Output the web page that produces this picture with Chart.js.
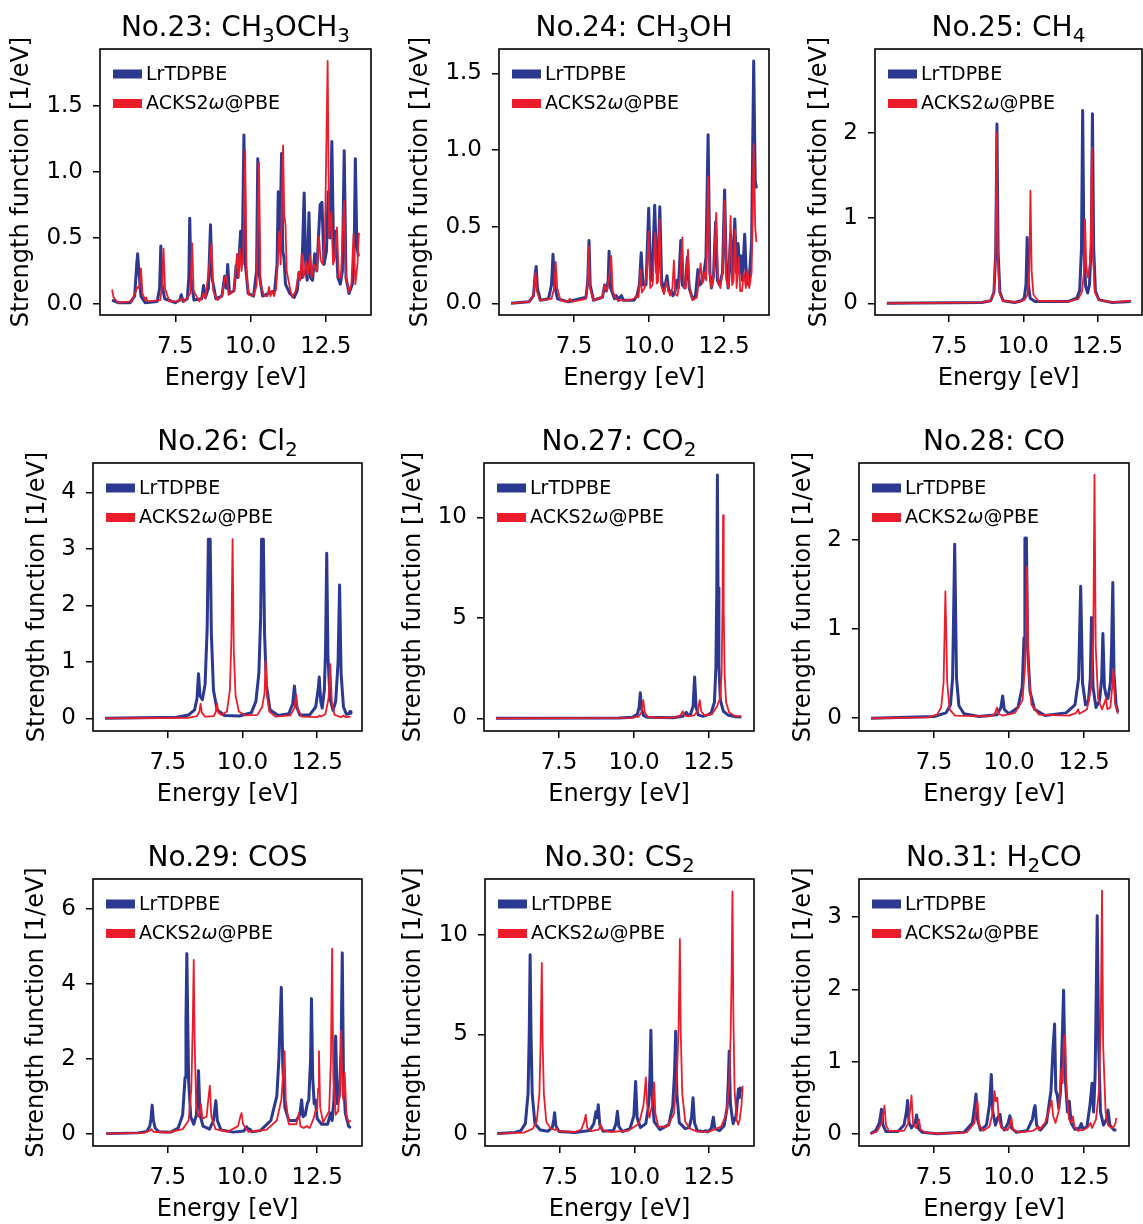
<!DOCTYPE html>
<html>
<head>
<meta charset="utf-8">
<script src="https://cdn.jsdelivr.net/npm/chart.js@4.4.1/dist/chart.umd.min.js"></script>
<style>
  body { margin: 0; background: #fff; width: 1143px; height: 1224px; position: relative; overflow: hidden; }
  canvas { position: absolute; }
</style>
</head>
<body>
<script>
// ---- data: [energy eV, strength 1/eV] ----
const seriesNames = ['LrTDPBE', 'ACKS2\u03c9@PBE'];
const xTicks = [7.5, 10.0, 12.5];

const ch3och3Lr = [[5.4,0.03],[5.6,0.01],[6.0,0.01],[6.15,0.06],[6.22,0.3],[6.25,0.38],[6.29,0.25],[6.36,0.06],[6.5,0.01],[6.9,0.02],[6.98,0.12],[7.02,0.44],[7.06,0.15],[7.15,0.04],[7.5,0.01],[7.65,0.03],[7.7,0.07],[7.76,0.02],[7.9,0.04],[7.95,0.2],[7.98,0.65],[8.02,0.2],[8.12,0.03],[8.38,0.04],[8.44,0.14],[8.5,0.05],[8.6,0.12],[8.67,0.6],[8.72,0.2],[8.85,0.04],[9.05,0.06],[9.14,0.21],[9.2,0.12],[9.24,0.3],[9.3,0.08],[9.45,0.1],[9.52,0.29],[9.58,0.2],[9.67,0.55],[9.72,0.3],[9.78,1.28],[9.83,0.3],[9.92,0.08],[10.1,0.06],[10.2,0.25],[10.24,1.1],[10.29,0.22],[10.4,0.06],[10.6,0.08],[10.8,0.1],[10.88,0.3],[10.92,0.85],[10.97,0.4],[11.03,1.14],[11.07,0.4],[11.11,0.35],[11.16,0.15],[11.3,0.08],[11.45,0.05],[11.55,0.1],[11.61,0.24],[11.7,0.2],[11.78,0.84],[11.83,0.3],[11.88,0.18],[11.94,0.69],[11.99,0.2],[12.06,0.18],[12.13,0.38],[12.2,0.25],[12.31,0.75],[12.37,0.77],[12.44,0.3],[12.52,0.4],[12.58,0.85],[12.64,0.5],[12.7,1.23],[12.76,0.35],[12.83,0.55],[12.9,0.2],[12.98,0.15],[13.05,0.25],[13.11,1.16],[13.17,0.2],[13.27,0.08],[13.38,0.15],[13.44,0.4],[13.48,1.1],[13.53,0.45],[13.58,0.36]];
const ch3och3Ac = [[5.4,0.11],[5.45,0.05],[5.6,0.01],[6.05,0.02],[6.2,0.1],[6.24,0.13],[6.3,0.12],[6.36,0.27],[6.41,0.08],[6.5,0.03],[6.53,0.05],[6.58,0.02],[7.0,0.03],[7.07,0.15],[7.11,0.42],[7.16,0.12],[7.3,0.02],[7.6,0.02],[7.7,0.04],[7.8,0.02],[8.0,0.08],[8.06,0.46],[8.11,0.1],[8.3,0.02],[8.44,0.08],[8.5,0.04],[8.62,0.27],[8.7,0.46],[8.76,0.1],[8.9,0.03],[9.05,0.06],[9.15,0.2],[9.2,0.21],[9.27,0.07],[9.45,0.1],[9.55,0.38],[9.6,0.2],[9.64,0.42],[9.7,0.25],[9.76,0.4],[9.82,1.16],[9.87,0.2],[9.95,0.07],[10.1,0.06],[10.2,0.14],[10.28,1.07],[10.33,0.15],[10.45,0.06],[10.56,0.06],[10.61,0.13],[10.66,0.06],[10.72,0.1],[10.78,0.06],[10.85,0.12],[10.9,0.3],[10.95,0.55],[11.0,0.3],[11.08,1.2],[11.12,0.67],[11.16,0.6],[11.2,0.25],[11.3,0.13],[11.38,0.05],[11.5,0.1],[11.6,0.24],[11.65,0.18],[11.7,0.38],[11.76,0.2],[11.85,0.32],[11.9,0.22],[11.98,0.37],[12.03,0.2],[12.1,0.3],[12.2,0.25],[12.27,0.51],[12.33,0.33],[12.4,0.3],[12.47,0.5],[12.56,1.84],[12.61,0.5],[12.68,0.7],[12.74,0.3],[12.8,0.35],[12.87,0.58],[12.93,0.2],[13.0,0.2],[13.11,0.78],[13.17,0.2],[13.27,0.09],[13.35,0.15],[13.42,0.53],[13.48,0.15],[13.55,0.3],[13.6,0.54]];

const ch3ohLr = [[5.4,0.0],[6.0,0.01],[6.15,0.05],[6.21,0.2],[6.24,0.24],[6.28,0.1],[6.38,0.02],[6.65,0.03],[6.75,0.12],[6.8,0.32],[6.85,0.12],[6.95,0.03],[7.3,0.01],[7.9,0.04],[7.96,0.15],[8.0,0.41],[8.04,0.12],[8.15,0.02],[8.45,0.04],[8.52,0.12],[8.58,0.08],[8.64,0.15],[8.67,0.34],[8.72,0.1],[8.85,0.03],[8.91,0.05],[8.98,0.02],[9.03,0.04],[9.08,0.05],[9.15,0.02],[9.5,0.02],[9.6,0.05],[9.68,0.12],[9.74,0.33],[9.8,0.12],[9.9,0.12],[9.99,0.62],[10.05,0.2],[10.1,0.15],[10.19,0.64],[10.26,0.2],[10.3,0.2],[10.36,0.63],[10.42,0.15],[10.5,0.08],[10.6,0.18],[10.66,0.08],[10.74,0.08],[10.8,0.05],[10.87,0.08],[10.93,0.15],[10.98,0.1],[11.06,0.41],[11.11,0.12],[11.2,0.1],[11.28,0.3],[11.34,0.1],[11.45,0.03],[11.55,0.05],[11.63,0.22],[11.7,0.12],[11.8,0.15],[11.9,0.3],[11.97,1.1],[12.03,0.2],[12.08,0.1],[12.15,0.18],[12.22,0.53],[12.28,0.15],[12.35,0.12],[12.45,0.2],[12.52,0.74],[12.58,0.2],[12.64,0.1],[12.72,0.45],[12.78,0.15],[12.86,0.55],[12.92,0.2],[12.97,0.39],[13.02,0.2],[13.06,0.31],[13.11,0.15],[13.19,0.45],[13.25,0.15],[13.33,0.12],[13.42,0.4],[13.49,1.58],[13.54,0.8],[13.58,0.75]];
const ch3ohAc = [[5.4,0.0],[6.0,0.01],[6.14,0.05],[6.19,0.15],[6.22,0.2],[6.26,0.08],[6.36,0.02],[6.75,0.03],[6.84,0.1],[6.89,0.27],[6.94,0.1],[7.05,0.02],[7.3,0.01],[7.36,0.03],[7.42,0.01],[7.9,0.03],[7.95,0.12],[7.99,0.37],[8.03,0.1],[8.15,0.02],[8.45,0.04],[8.52,0.12],[8.6,0.08],[8.69,0.2],[8.74,0.31],[8.79,0.08],[8.9,0.03],[9.0,0.02],[9.3,0.02],[9.5,0.03],[9.58,0.05],[9.65,0.04],[9.72,0.22],[9.76,0.07],[9.85,0.1],[9.93,0.2],[9.99,0.47],[10.04,0.1],[10.12,0.12],[10.21,0.46],[10.26,0.13],[10.3,0.14],[10.35,0.55],[10.4,0.12],[10.5,0.06],[10.58,0.14],[10.63,0.1],[10.7,0.05],[10.78,0.1],[10.83,0.28],[10.88,0.06],[10.95,0.05],[11.05,0.2],[11.11,0.43],[11.16,0.1],[11.22,0.1],[11.3,0.35],[11.35,0.1],[11.45,0.02],[11.6,0.04],[11.72,0.26],[11.78,0.13],[11.85,0.2],[11.91,0.15],[11.97,0.83],[12.02,0.2],[12.08,0.1],[12.16,0.2],[12.24,0.59],[12.3,0.15],[12.38,0.1],[12.46,0.22],[12.52,0.67],[12.58,0.15],[12.65,0.1],[12.72,0.57],[12.77,0.12],[12.82,0.15],[12.87,0.48],[12.92,0.1],[12.99,0.3],[13.04,0.08],[13.1,0.08],[13.16,0.2],[13.23,0.1],[13.28,0.22],[13.34,0.1],[13.42,0.2],[13.49,1.04],[13.54,0.5],[13.58,0.4]];

const ch4Lr = [[5.4,0],[8.6,0.01],[8.9,0.03],[9.01,0.13],[9.07,0.6],[9.11,2.1],[9.15,0.6],[9.21,0.13],[9.32,0.03],[9.7,0.01],[9.93,0.03],[10.03,0.06],[10.09,0.22],[10.13,0.77],[10.17,0.22],[10.23,0.06],[10.4,0.02],[11.5,0.02],[11.8,0.06],[11.9,0.15],[11.96,0.65],[12.0,2.26],[12.04,0.7],[12.1,0.2],[12.17,0.12],[12.23,0.22],[12.29,0.7],[12.33,2.22],[12.37,0.65],[12.43,0.14],[12.55,0.04],[13.0,0.01],[13.62,0.02]];
const ch4Ac = [[5.4,0],[8.6,0.01],[8.9,0.03],[9.0,0.12],[9.06,0.56],[9.1,2.0],[9.14,0.56],[9.2,0.12],[9.31,0.03],[9.8,0.01],[10.04,0.04],[10.14,0.1],[10.2,0.38],[10.24,1.32],[10.28,0.38],[10.34,0.1],[10.5,0.03],[11.5,0.02],[11.85,0.05],[11.98,0.14],[12.04,0.35],[12.08,0.98],[12.12,0.45],[12.18,0.3],[12.24,0.45],[12.27,0.6],[12.31,1.82],[12.35,0.55],[12.41,0.13],[12.55,0.04],[13.0,0.01],[13.62,0.03]];

const cl2Lr = [[5.4,0],[7.8,0.02],[8.2,0.06],[8.4,0.15],[8.48,0.35],[8.53,0.79],[8.58,0.4],[8.66,0.33],[8.75,0.6],[8.82,1.6],[8.86,3.17],[8.92,3.17],[8.96,1.5],[9.03,0.5],[9.15,0.15],[9.4,0.05],[9.9,0.04],[10.3,0.1],[10.45,0.3],[10.55,0.8],[10.61,1.8],[10.64,3.17],[10.7,3.17],[10.74,1.5],[10.8,0.6],[10.92,0.15],[11.2,0.05],[11.55,0.08],[11.68,0.25],[11.74,0.57],[11.8,0.22],[11.92,0.06],[12.25,0.06],[12.45,0.2],[12.53,0.5],[12.57,0.73],[12.62,0.3],[12.67,0.18],[12.74,0.5],[12.78,1.2],[12.82,2.92],[12.86,1.1],[12.93,0.35],[13.03,0.14],[13.12,0.3],[13.2,1.0],[13.25,2.36],[13.3,0.8],[13.38,0.2],[13.48,0.07],[13.56,0.08],[13.6,0.12],[13.63,0.09]];
const cl2Ac = [[5.4,0],[8.2,0.01],[8.48,0.04],[8.56,0.12],[8.6,0.26],[8.64,0.1],[8.75,0.03],[9.04,0.04],[9.11,0.12],[9.15,0.27],[9.19,0.1],[9.3,0.06],[9.48,0.12],[9.58,0.5],[9.63,1.4],[9.67,3.17],[9.71,1.2],[9.77,0.4],[9.88,0.12],[10.1,0.05],[10.5,0.06],[10.66,0.2],[10.74,0.45],[10.78,1.02],[10.82,0.4],[10.9,0.12],[11.1,0.03],[11.6,0.05],[11.74,0.18],[11.8,0.42],[11.85,0.15],[11.98,0.03],[12.5,0.02],[12.58,0.05],[12.64,0.03],[12.78,0.08],[12.88,0.35],[12.94,0.96],[12.99,0.3],[13.08,0.06],[13.3,0.02],[13.38,0.05],[13.45,0.02],[13.62,0.03]];

const co2Lr = [[5.4,0],[9.5,0.02],[9.95,0.05],[10.11,0.2],[10.17,0.55],[10.21,1.27],[10.25,0.5],[10.31,0.15],[10.45,0.05],[11.3,0.03],[11.62,0.1],[11.7,0.22],[11.74,0.3],[11.79,0.18],[11.88,0.18],[11.97,0.6],[12.02,2.05],[12.07,0.55],[12.14,0.17],[12.3,0.1],[12.5,0.2],[12.58,0.3],[12.68,0.8],[12.73,2.5],[12.76,6.5],[12.78,12.1],[12.8,6.5],[12.83,2.6],[12.88,0.9],[12.98,0.35],[13.15,0.15],[13.4,0.08],[13.58,0.06]];
const co2Ac = [[5.4,0],[9.9,0.02],[10.15,0.08],[10.25,0.3],[10.31,0.9],[10.36,0.3],[10.45,0.08],[10.7,0.03],[11.3,0.04],[11.53,0.12],[11.63,0.35],[11.68,0.15],[11.8,0.1],[12.0,0.15],[12.12,0.35],[12.19,0.9],[12.24,0.35],[12.35,0.15],[12.6,0.2],[12.77,0.6],[12.87,1.0],[12.92,2.2],[12.95,5.5],[12.97,10.1],[12.99,5.5],[13.02,2.2],[13.07,0.8],[13.17,0.3],[13.35,0.12],[13.58,0.1]];

const coLr = [[5.4,0],[7.5,0.02],[7.9,0.06],[8.05,0.15],[8.12,0.45],[8.19,1.95],[8.25,0.45],[8.33,0.14],[8.5,0.05],[9.0,0.02],[9.6,0.04],[9.73,0.12],[9.79,0.25],[9.84,0.1],[10.0,0.05],[10.3,0.12],[10.44,0.35],[10.5,0.9],[10.53,2.02],[10.58,2.02],[10.62,0.8],[10.7,0.3],[10.85,0.1],[11.2,0.03],[11.9,0.06],[12.2,0.15],[12.32,0.45],[12.39,1.48],[12.45,0.4],[12.55,0.15],[12.65,0.2],[12.71,0.45],[12.75,1.13],[12.8,0.35],[12.9,0.12],[13.02,0.2],[13.09,0.45],[13.13,0.95],[13.18,0.35],[13.24,0.25],[13.3,0.22],[13.38,0.4],[13.42,0.8],[13.46,1.52],[13.5,0.5],[13.57,0.15],[13.63,0.07]];
const coAc = [[5.4,0],[7.3,0.01],[7.6,0.04],[7.74,0.12],[7.82,0.4],[7.88,1.42],[7.94,0.4],[8.02,0.1],[8.2,0.03],[9.3,0.02],[9.5,0.04],[9.56,0.08],[9.6,0.12],[9.64,0.05],[9.8,0.03],[10.2,0.06],[10.45,0.2],[10.54,0.6],[10.6,1.7],[10.65,0.55],[10.75,0.15],[11.0,0.04],[12.0,0.03],[12.24,0.06],[12.3,0.1],[12.35,0.05],[12.6,0.1],[12.74,0.35],[12.81,0.9],[12.85,2.73],[12.89,0.8],[12.97,0.22],[13.1,0.1],[13.19,0.18],[13.23,0.22],[13.28,0.1],[13.38,0.12],[13.44,0.35],[13.48,0.55],[13.53,0.18],[13.63,0.05]];

const cosLr = [[5.44,0],[6.5,0.02],[6.8,0.06],[6.9,0.2],[6.94,0.4],[6.98,0.76],[7.02,0.35],[7.08,0.15],[7.2,0.05],[7.6,0.04],[7.85,0.15],[8.0,0.5],[8.08,1.5],[8.11,3.0],[8.14,4.8],[8.17,3.0],[8.2,1.4],[8.27,0.45],[8.37,0.25],[8.46,0.5],[8.53,1.68],[8.58,0.5],[8.68,0.2],[8.9,0.12],[9.03,0.35],[9.11,0.88],[9.16,0.35],[9.28,0.1],[9.7,0.04],[10.05,0.07],[10.14,0.18],[10.2,0.12],[10.25,0.12],[10.32,0.05],[10.6,0.08],[10.95,0.35],[11.15,1.0],[11.22,2.0],[11.3,3.9],[11.35,1.8],[11.42,0.7],[11.55,0.35],[11.8,0.35],[11.92,0.5],[11.98,0.9],[12.03,0.45],[12.1,0.5],[12.17,0.8],[12.22,0.9],[12.28,2.0],[12.31,3.6],[12.35,1.5],[12.4,0.8],[12.44,0.9],[12.5,0.4],[12.65,0.25],[12.85,0.25],[12.95,0.55],[13.0,0.35],[13.06,0.9],[13.12,2.6],[13.17,0.8],[13.24,1.0],[13.3,2.2],[13.34,4.82],[13.38,1.5],[13.44,0.55],[13.55,0.2],[13.62,0.15]];
const cosAc = [[5.44,0],[6.7,0.02],[6.9,0.08],[6.95,0.12],[7.02,0.05],[7.5,0.03],[8.0,0.12],[8.2,0.35],[8.29,1.2],[8.34,3.0],[8.37,4.63],[8.4,2.5],[8.45,0.8],[8.52,0.45],[8.57,0.5],[8.61,0.79],[8.66,0.4],[8.8,0.45],[8.87,1.0],[8.91,1.28],[8.96,0.45],[9.1,0.12],[9.5,0.05],[9.85,0.2],[9.93,0.45],[9.97,0.55],[10.02,0.25],[10.2,0.05],[10.8,0.1],[11.15,0.35],[11.3,0.9],[11.37,1.7],[11.41,2.2],[11.45,0.9],[11.55,0.25],[11.8,0.25],[11.89,0.55],[11.94,0.2],[12.05,0.15],[12.15,0.2],[12.25,0.15],[12.38,0.4],[12.44,0.6],[12.5,0.6],[12.53,1.2],[12.56,2.2],[12.6,0.7],[12.7,0.3],[12.9,0.6],[12.96,2.0],[13.0,4.93],[13.04,1.5],[13.12,0.5],[13.2,0.6],[13.26,1.2],[13.3,2.74],[13.35,1.0],[13.38,0.9],[13.42,1.62],[13.48,0.5],[13.55,0.3],[13.62,0.35]];

const cs2Lr = [[5.41,0],[6.0,0.06],[6.2,0.15],[6.35,0.5],[6.44,2.0],[6.48,5.0],[6.51,9.0],[6.54,5.0],[6.58,2.0],[6.67,0.5],[6.85,0.18],[7.1,0.12],[7.25,0.3],[7.3,0.7],[7.33,1.05],[7.37,0.4],[7.48,0.1],[8.0,0.05],[8.5,0.15],[8.64,0.5],[8.71,1.1],[8.75,0.8],[8.79,1.45],[8.84,0.45],[8.95,0.12],[9.3,0.15],[9.38,0.5],[9.43,1.12],[9.48,0.35],[9.6,0.1],[9.85,0.25],[9.98,0.9],[10.04,2.62],[10.09,0.8],[10.2,0.3],[10.38,0.5],[10.48,1.5],[10.52,3.0],[10.55,5.2],[10.59,2.0],[10.66,0.6],[10.85,0.2],[11.15,0.45],[11.28,1.4],[11.34,3.0],[11.38,5.15],[11.42,2.0],[11.5,0.55],[11.7,0.25],[11.83,0.3],[11.91,0.8],[11.96,1.8],[12.01,0.55],[12.1,0.15],[12.3,0.1],[12.39,0.15],[12.45,0.08],[12.57,0.25],[12.64,0.82],[12.69,0.25],[12.85,0.15],[13.0,0.4],[13.1,1.3],[13.14,2.6],[13.17,4.15],[13.21,1.5],[13.3,0.5],[13.4,0.9],[13.48,2.25],[13.51,1.8],[13.54,2.3],[13.6,2.1]];
const cs2Ac = [[5.41,0],[6.3,0.05],[6.6,0.25],[6.73,0.6],[6.82,2.0],[6.86,4.5],[6.9,8.6],[6.93,4.5],[6.97,2.0],[7.05,0.6],[7.2,0.25],[7.35,0.18],[7.39,0.25],[7.45,0.12],[8.0,0.08],[8.22,0.2],[8.32,0.6],[8.37,0.95],[8.42,0.3],[8.55,0.12],[8.8,0.2],[8.87,0.45],[8.93,0.18],[9.2,0.08],[9.8,0.15],[10.15,0.5],[10.3,1.4],[10.35,2.2],[10.38,2.83],[10.42,1.5],[10.5,0.8],[10.6,1.5],[10.63,2.0],[10.66,2.58],[10.7,1.0],[10.8,0.35],[11.1,0.35],[11.32,1.0],[11.42,2.8],[11.48,5.5],[11.52,9.8],[11.55,5.0],[11.6,2.0],[11.7,0.6],[11.85,0.25],[11.94,0.2],[12.1,0.1],[12.5,0.1],[12.9,0.35],[13.08,1.0],[13.17,2.5],[13.22,5.0],[13.25,8.0],[13.28,12.2],[13.31,6.0],[13.35,2.2],[13.42,0.7],[13.47,0.45],[13.52,0.7],[13.58,1.4],[13.62,2.4]];

const h2coLr = [[5.38,0],[5.55,0.04],[5.68,0.15],[5.75,0.34],[5.8,0.12],[5.9,0.03],[6.3,0.03],[6.5,0.12],[6.58,0.3],[6.62,0.46],[6.67,0.15],[6.75,0.08],[6.87,0.15],[6.92,0.26],[6.97,0.08],[7.1,0.02],[7.6,0.0],[8.5,0.02],[8.78,0.15],[8.86,0.4],[8.9,0.55],[8.95,0.2],[9.05,0.05],[9.25,0.12],[9.35,0.4],[9.41,0.82],[9.46,0.3],[9.55,0.12],[9.62,0.22],[9.7,0.27],[9.75,0.1],[9.85,0.05],[9.97,0.15],[10.03,0.25],[10.08,0.08],[10.25,0.02],[10.6,0.04],[10.78,0.2],[10.84,0.35],[10.87,0.39],[10.92,0.12],[11.05,0.05],[11.25,0.15],[11.4,0.6],[11.47,1.2],[11.52,1.52],[11.56,0.6],[11.61,0.53],[11.66,0.35],[11.72,0.6],[11.78,1.4],[11.82,1.99],[11.87,0.8],[11.95,0.3],[12.01,0.45],[12.07,0.15],[12.2,0.06],[12.35,0.08],[12.41,0.14],[12.47,0.06],[12.6,0.1],[12.7,0.4],[12.77,0.7],[12.82,0.3],[12.87,0.8],[12.91,2.0],[12.94,3.02],[12.99,1.2],[13.05,0.3],[13.15,0.12],[13.25,0.2],[13.3,0.33],[13.36,0.12],[13.5,0.05],[13.58,0.05]];
const h2coAc = [[5.38,0],[5.6,0.03],[5.76,0.15],[5.82,0.3],[5.85,0.39],[5.9,0.12],[6.0,0.04],[6.5,0.04],[6.65,0.15],[6.71,0.35],[6.75,0.53],[6.8,0.15],[6.9,0.08],[6.96,0.15],[7.0,0.2],[7.05,0.06],[7.2,0.02],[7.6,0.0],[8.6,0.02],[8.85,0.15],[8.91,0.35],[8.95,0.45],[9.0,0.12],[9.15,0.04],[9.35,0.1],[9.46,0.3],[9.52,0.59],[9.56,0.45],[9.61,0.5],[9.66,0.2],[9.75,0.08],[9.95,0.05],[10.03,0.12],[10.08,0.22],[10.13,0.06],[10.3,0.02],[10.8,0.04],[10.93,0.08],[10.96,0.1],[11.0,0.05],[11.2,0.15],[11.35,0.35],[11.42,0.46],[11.47,0.25],[11.55,0.15],[11.65,0.3],[11.72,0.7],[11.75,0.9],[11.79,0.7],[11.83,1.3],[11.87,1.37],[11.92,0.6],[12.0,0.2],[12.08,0.15],[12.13,0.24],[12.18,0.1],[12.3,0.04],[12.4,0.05],[12.45,0.05],[12.6,0.08],[12.68,0.12],[12.72,0.15],[12.77,0.08],[12.9,0.2],[13.0,0.6],[13.06,1.5],[13.1,3.37],[13.14,1.2],[13.22,0.3],[13.3,0.12],[13.42,0.08],[13.5,0.1],[13.55,0.15],[13.58,0.22]];

// titles as [text, isSubscript] runs
const titles = [
  [['No.23: CH',0],['3',1],['OCH',0],['3',1]],
  [['No.24: CH',0],['3',1],['OH',0]],
  [['No.25: CH',0],['4',1]],
  [['No.26: Cl',0],['2',1]],
  [['No.27: CO',0],['2',1]],
  [['No.28: CO',0]],
  [['No.29: COS',0]],
  [['No.30: CS',0],['2',1]],
  [['No.31: H',0],['2',1],['CO',0]]
];
const lrData = [ch3och3Lr, ch3ohLr, ch4Lr, cl2Lr, co2Lr, coLr, cosLr, cs2Lr, h2coLr];
const acData = [ch3och3Ac, ch3ohAc, ch4Ac, cl2Ac, co2Ac, coAc, cosAc, cs2Ac, h2coAc];
const yMins = [-0.083, -0.076, -0.137, -0.225, -0.63, -0.143, -0.33, -0.625, -0.17];
const yMaxs = [1.93, 1.659, 2.98, 4.52, 12.7, 2.86, 6.79, 12.82, 3.53];
const yTicks = [[0,0.5,1,1.5],[0,0.5,1,1.5],[0,1,2],[0,1,2,3,4],[0,5,10],[0,1,2],[0,2,4,6],[0,5,10],[0,1,2,3]];
const yDecimals = [1, 1, 0, 0, 0, 0, 0, 0, 0];

// layout: plot-area boxes in page pixels [left, top, right, bottom], and y-label distance from the axes
const boxes = [
  [100, 49, 371, 315], [499, 49, 769, 315], [875, 49, 1142, 315],
  [93, 463, 362, 731], [484, 463, 754, 731], [859, 463, 1129, 731],
  [93, 879, 362, 1146], [485, 879, 754, 1146], [859, 879, 1129, 1146]
];
const yLabelGap = [78, 78, 55, 55.5, 70.5, 55, 56, 71, 55];

const BLUE = '#2b3990';
const RED = '#ec1c2b';
const Y_AXIS_W = 100, X_AXIS_H = 85, PAD_TOP = 46, PAD_RIGHT = 12;
const LABEL_SIZE = 24;

Chart.defaults.font.family = "'DejaVu Sans', sans-serif";
Chart.defaults.color = '#000';

const framePlugin = {
  id: 'frame',
  afterDraw(chart) {
    const { ctx, chartArea: a } = chart;
    ctx.save();
    ctx.strokeStyle = '#000';
    ctx.lineWidth = 1.6;
    ctx.strokeRect(a.left, a.top, a.right - a.left, a.bottom - a.top);
    ctx.restore();
  }
};

// legend drawn inside the axes, upper left, no frame; omega in italics
const insideLegend = {
  id: 'insideLegend',
  afterDraw(chart) {
    const { ctx, chartArea: a } = chart;
    ctx.save();
    ctx.textBaseline = 'middle';
    chart.data.datasets.forEach((ds, i) => {
      const y = a.top + 25 + i * 29.5;
      ctx.strokeStyle = ds.borderColor;
      ctx.lineWidth = 9;
      ctx.lineCap = 'butt';
      ctx.beginPath();
      ctx.moveTo(a.left + 13, y);
      ctx.lineTo(a.left + 42, y);
      ctx.stroke();
      ctx.fillStyle = '#000';
      let x = a.left + 46;
      ds.label.split(/(\u03c9)/).forEach(part => {
        ctx.font = part === '\u03c9' ? "oblique 19px 'DejaVu Sans'" : "19px 'DejaVu Sans'";
        ctx.fillText(part, x, y + 1);
        x += ctx.measureText(part).width;
      });
    });
    ctx.restore();
  }
};

// title with subscripts, centred over the axes
const subTitle = {
  id: 'subTitle',
  afterDraw(chart, args, opts) {
    const { ctx, chartArea: a } = chart;
    const big = "28px 'DejaVu Sans'", small = "20px 'DejaVu Sans'";
    ctx.save();
    ctx.textBaseline = 'alphabetic';
    let w = 0;
    opts.runs.forEach(([t, s]) => { ctx.font = s ? small : big; w += ctx.measureText(t).width; });
    let x = (a.left + a.right) / 2 - w / 2;
    const base = a.top - 13;
    ctx.fillStyle = '#000';
    opts.runs.forEach(([t, s]) => {
      ctx.font = s ? small : big;
      ctx.fillText(t, x, s ? base + 6 : base);
      x += ctx.measureText(t).width;
    });
    ctx.restore();
  }
};

boxes.forEach((b, i) => {
  const [l, t, r, btm] = b;
  const cv = document.createElement('canvas');
  cv.width = (r - l) + Y_AXIS_W + PAD_RIGHT;
  cv.height = (btm - t) + PAD_TOP + X_AXIS_H;
  cv.style.left = (l - Y_AXIS_W) + 'px';
  cv.style.top = (t - PAD_TOP) + 'px';
  document.body.appendChild(cv);

  const yTitlePad = Y_AXIS_W - LABEL_SIZE * 0.6 - yLabelGap[i];

  new Chart(cv.getContext('2d'), {
    type: 'line',
    data: {
      datasets: [
        { label: seriesNames[0], data: lrData[i], borderColor: BLUE, borderWidth: 3, order: 1 },
        { label: seriesNames[1], data: acData[i], borderColor: RED, borderWidth: 1.8, order: 0 }
      ]
    },
    options: {
      responsive: false,
      animation: false,
      devicePixelRatio: 1,
      events: [],
      layout: { padding: { top: PAD_TOP, right: PAD_RIGHT, left: 0, bottom: 0 } },
      elements: {
        point: { radius: 0 },
        line: { tension: 0, borderJoinStyle: 'round', fill: false }
      },
      plugins: {
        legend: { display: false },
        tooltip: { enabled: false },
        subTitle: { runs: titles[i] }
      },
      scales: {
        x: {
          type: 'linear', min: 5.0, max: 14.0,
          afterBuildTicks: s => { s.ticks = xTicks.map(v => ({ value: v })); },
          afterFit: s => { s.height = X_AXIS_H; },
          ticks: { callback: v => v.toFixed(1), font: { size: 23 }, padding: 11, maxRotation: 0, autoSkip: false },
          grid: { drawOnChartArea: false, tickLength: 7, color: '#000', lineWidth: 1.5 },
          border: { display: false },
          title: { display: true, text: 'Energy [eV]', font: { size: LABEL_SIZE }, padding: { top: 0, bottom: 7 } }
        },
        y: {
          type: 'linear', min: yMins[i], max: yMaxs[i],
          afterBuildTicks: s => { s.ticks = yTicks[i].map(v => ({ value: v })); },
          afterFit: s => { s.width = Y_AXIS_W; },
          ticks: { callback: v => v.toFixed(yDecimals[i]), font: { size: 23 }, padding: 10, autoSkip: false },
          grid: { drawOnChartArea: false, tickLength: 7, color: '#000', lineWidth: 1.5 },
          border: { display: false },
          title: { display: true, text: 'Strength function [1/eV]', font: { size: LABEL_SIZE }, padding: { top: yTitlePad, bottom: 0 } }
        }
      }
    },
    plugins: [framePlugin, insideLegend, subTitle]
  });
});
</script>
</body>
</html>
